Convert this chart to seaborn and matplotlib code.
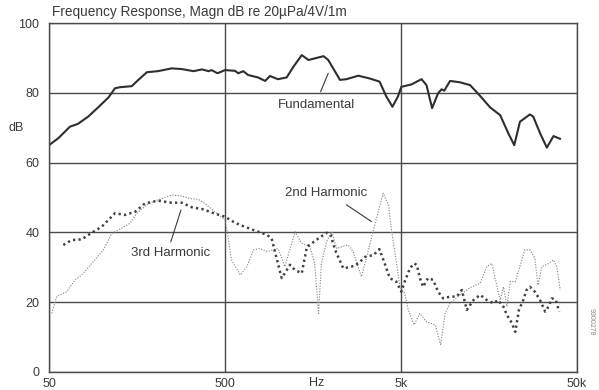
import numpy as np
import pandas as pd
import matplotlib
matplotlib.use("Agg")
import matplotlib.pyplot as plt
from matplotlib.ticker import FixedLocator, NullFormatter
import seaborn as sns

# Fundamental response (Hz, dB)
fund_freq = [50, 56.5, 65.8, 73, 83.6, 95, 109, 118.6, 126.5, 147.5, 161, 180, 208, 249, 284,
             331, 370, 403, 420, 453, 500, 570, 595, 635, 676, 770, 845, 900, 1000, 1120, 1225,
             1365, 1490, 1815, 1930, 2250, 2450, 2860, 3320, 3780, 4130, 4470, 4800, 5020, 5730,
             6540, 6980, 7510, 8130, 8500, 8800, 9500, 10830, 12350, 14080, 16050, 18300, 20350,
             22000, 23700, 27000, 28200, 30850, 33700, 36750, 40150]
fund_db = [65.0, 67.0, 70.3, 71.1, 73.2, 75.8, 78.7, 81.3, 81.6, 81.9, 83.7, 85.9, 86.2, 87.0, 86.8,
           86.2, 86.7, 86.2, 86.5, 85.6, 86.5, 86.3, 85.6, 86.2, 85.1, 84.4, 83.4, 84.8, 83.9, 84.4, 87.5,
           90.8, 89.4, 90.5, 89.4, 83.7, 83.9, 84.9, 84.1, 83.2, 78.9, 76.0, 78.9, 81.7, 82.4,
           83.9, 82.2, 75.6, 79.9, 81.0, 80.6, 83.4, 83.0, 82.2, 79.1, 75.8, 73.6, 68.4,
           65.0, 71.7, 73.8, 73.2, 68.4, 64.3, 67.6, 66.8]

# 2nd harmonic distortion
h2_freq = [51.8, 55.3, 63, 70.3, 76.7, 87.4, 102, 113.6, 129.4, 144, 157.6, 183.5, 218.7, 249, 284,
           317, 352, 384, 438, 500, 518, 545, 610, 665, 726, 790, 863, 1000, 1095, 1250, 1365,
           1520, 1616, 1700, 1765, 1890, 2020, 2155, 2300, 2505, 2670, 2980, 3250, 3485, 3960,
           4245, 4415, 4700, 4930, 5250, 5500, 5935, 6400, 6980, 7830, 8400, 8900, 9500, 11080,
           12600, 14080, 15370, 16400, 17400, 18300, 19100, 20000, 20900, 22300, 23700, 25250,
           27000, 28800, 30000, 31600, 34600, 36750, 38400, 40150]
h2_db = [16.8, 21.6, 23.0, 26.4, 27.8, 31.1, 35.0, 39.7, 41.2, 42.6, 45.5, 48.3, 49.7, 50.7, 50.4,
         49.7, 49.5, 48.3, 45.9, 43.6, 39.3, 32.1, 27.8, 30.2, 35.0, 35.4, 34.5, 35.4, 30.2, 40.2, 36.9,
         35.9, 31.1, 16.8, 31.1, 37.3, 40.2, 35.4, 35.9, 36.4, 34.5, 27.3, 34.5, 40.7, 51.2,
         47.9, 40.7, 31.6, 24.4, 22.5, 17.8, 13.5, 16.8, 14.4, 13.5, 7.7, 16.8, 19.7, 22.5,
         24.4, 25.4, 30.2, 31.1, 25.4, 20.6, 24.4, 18.7, 25.9, 25.9, 30.2, 35.0,
         35.0, 32.6, 24.9, 30.2, 31.1, 32.1, 30.2, 23.5]

# 3rd harmonic distortion
h3_freq = [60.3, 67.3, 76.7, 87.4, 99.6, 118.6, 135, 154, 175.5, 208, 249, 284, 324, 377, 430, 500,
           559, 610, 726, 863, 920, 961, 1050, 1170, 1250, 1365, 1460, 1560, 1700, 1890, 1990, 2110,
           2350, 2625, 2860, 3130, 3485, 3770, 4040, 4320, 4700, 5020, 5250, 5620, 5935, 6150,
           6400, 6680, 7120, 7600, 8130, 8680, 9500, 10370, 11080, 11830, 12900, 14080, 15370,
           16770, 17800, 19100, 20000, 21350, 22300, 23400, 24750, 25850, 27000, 28800, 30850,
           32950, 34400, 36000, 37950, 39600]
h3_db = [36.4, 37.8, 38.0, 39.9, 41.6, 45.5, 45.0, 45.9, 48.3, 49.1, 48.5, 48.5, 47.2, 46.6, 45.5, 44.5,
         43.0, 42.1, 40.7, 39.3, 38.3, 34.5, 26.9, 30.7, 29.2, 28.3, 35.9, 36.9, 38.3, 39.9, 39.3, 35.0,
         29.7, 30.2, 31.1, 33.0, 33.5, 35.2, 31.1, 26.9, 25.9, 23.0, 25.9, 29.7, 31.1, 30.7,
         26.9, 24.4, 26.9, 26.4, 23.0, 21.1, 21.6, 21.6, 23.5, 17.8, 20.6, 22.1, 20.6,
         19.7, 20.6, 18.7, 16.3, 14.0, 11.5, 17.8, 20.6, 23.5, 24.4, 23.0, 20.6,
         17.3, 18.7, 21.1, 20.6, 17.3]

x_ticks = [50, 500, 5000, 50000]
x_tick_labels = ["50", "500", "5k", "50k"]
y_ticks = [0, 20, 40, 60, 80, 100]

sns.set_style("white")
plt.rcParams["font.family"] = ["Liberation Sans", "DejaVu Sans"]

TEXT = "#3a3a3a"
GRID = "#4a4a4a"
FS = 9.5

fig = plt.figure(figsize=(5.99, 3.90), dpi=100)
ax = fig.add_axes([49 / 599, 1 - 372 / 390, 528 / 599, 349 / 390])

fund = pd.DataFrame({"freq": fund_freq, "db": fund_db})
h2 = pd.DataFrame({"freq": h2_freq, "db": h2_db})
h3 = pd.DataFrame({"freq": h3_freq, "db": h3_db})

sns.lineplot(data=fund, x="freq", y="db", ax=ax, estimator=None, sort=False,
             color="#2e2e2e", linewidth=1.5)
sns.lineplot(data=h2, x="freq", y="db", ax=ax, estimator=None, sort=False,
             color="#8a8a8a", linewidth=0.85, linestyle=(0, (1, 1.3)))
sns.lineplot(data=h3, x="freq", y="db", ax=ax, estimator=None, sort=False,
             color="#404040", linewidth=1.8, linestyle=(0, (0.9, 1.3)))

ax.set_xscale("log")
ax.set_xlim(50, 50000)
ax.set_ylim(0, 100)
ax.xaxis.set_major_locator(FixedLocator(x_ticks))
ax.set_xticklabels(x_tick_labels)
ax.xaxis.set_minor_locator(FixedLocator([1665]))
ax.xaxis.set_minor_formatter(NullFormatter())
ax.set_yticks(y_ticks)
ax.set_yticklabels([str(v) for v in y_ticks])
ax.set_xlabel("")
ax.set_ylabel("")

ax.grid(True, which="major", color=GRID, linewidth=1.0)
for s in ax.spines.values():
    s.set_color(GRID)
    s.set_linewidth(1.0)
ax.tick_params(axis="both", which="both", length=0, labelsize=9, labelcolor=TEXT)
ax.tick_params(axis="y", pad=7)
ax.tick_params(axis="x", pad=4)

# frequency unit sits between the 500 and 5k labels
ax.text(1665, -3.2, "Hz", ha="center", va="center", fontsize=9, color=TEXT)
ax.text(-0.063, 0.70, "dB", transform=ax.transAxes, ha="center", va="center",
        fontsize=9, color=TEXT)

fig.text(52 / 599, 1 - 12 / 390, "Frequency Response, Magn dB re 20\u00b5Pa/4V/1m",
         ha="left", va="center", fontsize=9.8, color=TEXT)

# curve labels with leader lines
ax.text(1645, 76.5, "Fundamental", ha="center", va="center", fontsize=FS, color=TEXT)
ax.plot([1746, 1930], [80.3, 85.6], color=TEXT, linewidth=0.8)
ax.text(1886, 51.3, "2nd Harmonic", ha="center", va="center", fontsize=FS, color=TEXT)
ax.plot([2450, 3400], [47.9, 43.1], color=TEXT, linewidth=0.8)
ax.text(244, 34.1, "3rd Harmonic", ha="center", va="center", fontsize=FS, color=TEXT)
ax.plot([246, 281], [37.3, 46.4], color=TEXT, linewidth=0.8)

fig.text(591 / 599, 1 - 322 / 390, "9300278", rotation=270, ha="center", va="center",
         fontsize=5, color="#8a8a8a")

fig.savefig("out.png", dpi=100, facecolor="white")
